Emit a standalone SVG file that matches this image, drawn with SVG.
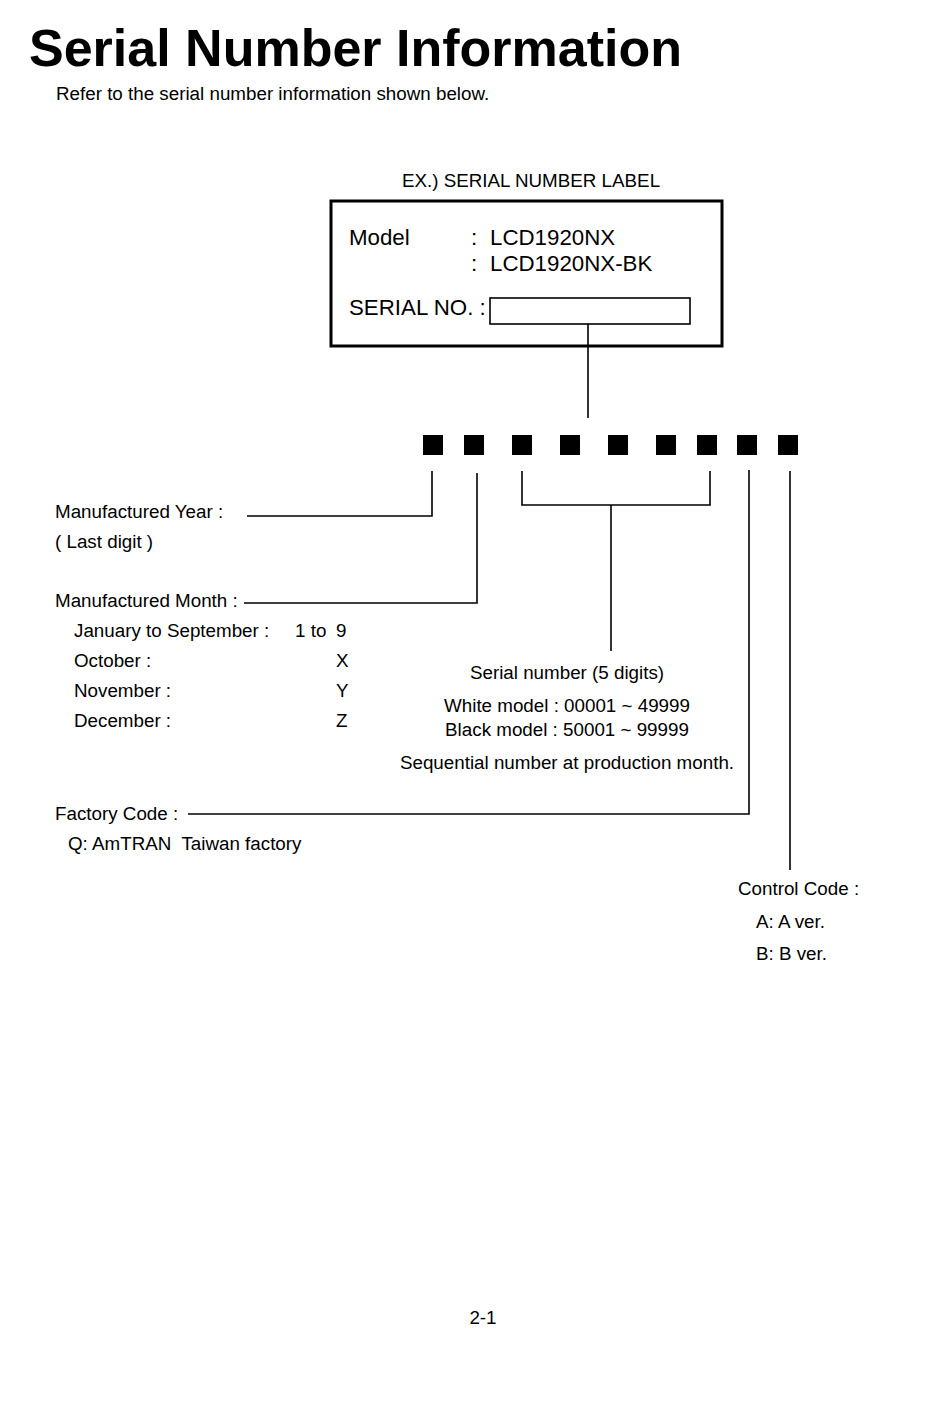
<svg xmlns="http://www.w3.org/2000/svg" width="950" height="1420" viewBox="0 0 950 1420">
<style>
text{font-family:"Liberation Sans",Arial,sans-serif;fill:#000}
.t{font-size:18.8px}
.m{font-size:22.3px}
.c{text-anchor:middle}
.ln{fill:none;stroke:#000;stroke-width:1.6}
.sq{fill:#000}
</style>
<rect width="950" height="1420" fill="#fff"/>
<g id="title">
<text x="29" y="66" font-size="52" font-weight="bold">Serial Number Information</text>
<text class="t" x="56" y="100">Refer to the serial number information shown below.</text>
</g>
<g id="label">
<text class="t c" x="531" y="187">EX.) SERIAL NUMBER LABEL</text>
<rect x="331" y="201" width="391" height="145" fill="none" stroke="#000" stroke-width="3"/>
<text class="m" x="349" y="245">Model</text>
<text class="m" x="471" y="245">:</text>
<text class="m" x="490" y="245">LCD1920NX</text>
<text class="m" x="471" y="271">:</text>
<text class="m" x="490" y="271">LCD1920NX-BK</text>
<text class="m" x="349" y="315">SERIAL NO. :</text>
<rect x="490" y="298" width="200" height="26" fill="none" stroke="#000" stroke-width="1.6"/>
</g>
<g id="digits">
<rect class="sq" x="423" y="435" width="20" height="20"/>
<rect class="sq" x="464" y="435" width="20" height="20"/>
<rect class="sq" x="512" y="435" width="20" height="20"/>
<rect class="sq" x="560" y="435" width="20" height="20"/>
<rect class="sq" x="608" y="435" width="20" height="20"/>
<rect class="sq" x="656" y="435" width="20" height="20"/>
<rect class="sq" x="697" y="435" width="20" height="20"/>
<rect class="sq" x="737" y="435" width="20" height="20"/>
<rect class="sq" x="778" y="435" width="20" height="20"/>
</g>
<g id="connectors">
<path class="ln" d="M588 324V418"/>
<path class="ln" d="M432 471V516H247"/>
<path class="ln" d="M477 473V603H244"/>
<path class="ln" d="M522 471V505H710V471"/>
<path class="ln" d="M611 505V651"/>
<path class="ln" d="M749 470V814H188"/>
<path class="ln" d="M790 471V870"/>
</g>
<g id="year">
<text class="t" x="55" y="518">Manufactured Year :</text>
<text class="t" x="55" y="548">( Last digit )</text>
</g>
<g id="month">
<text class="t" x="55" y="607">Manufactured Month :</text>
<text class="t" x="74" y="637">January to September :</text>
<text class="t" x="295" y="637">1 to</text>
<text class="t" x="336" y="637">9</text>
<text class="t" x="74" y="667">October :</text>
<text class="t" x="336" y="667">X</text>
<text class="t" x="74" y="697">November :</text>
<text class="t" x="336" y="697">Y</text>
<text class="t" x="74" y="727">December :</text>
<text class="t" x="336" y="727">Z</text>
</g>
<g id="serial">
<text class="t c" x="567" y="679">Serial number (5 digits)</text>
<text class="t c" x="567" y="712">White model : 00001 ~ 49999</text>
<text class="t c" x="567" y="736">Black model : 50001 ~ 99999</text>
<text class="t c" x="567" y="769">Sequential number at production month.</text>
</g>
<g id="factory">
<text class="t" x="55" y="820">Factory Code :</text>
<text class="t" x="68" y="850" xml:space="preserve">Q: AmTRAN  Taiwan factory</text>
</g>
<g id="control">
<text class="t" x="738" y="895">Control Code :</text>
<text class="t" x="756" y="928">A: A ver.</text>
<text class="t" x="756" y="960">B: B ver.</text>
</g>
<g id="page">
<text class="t c" x="483" y="1324">2-1</text>
</g>
</svg>
